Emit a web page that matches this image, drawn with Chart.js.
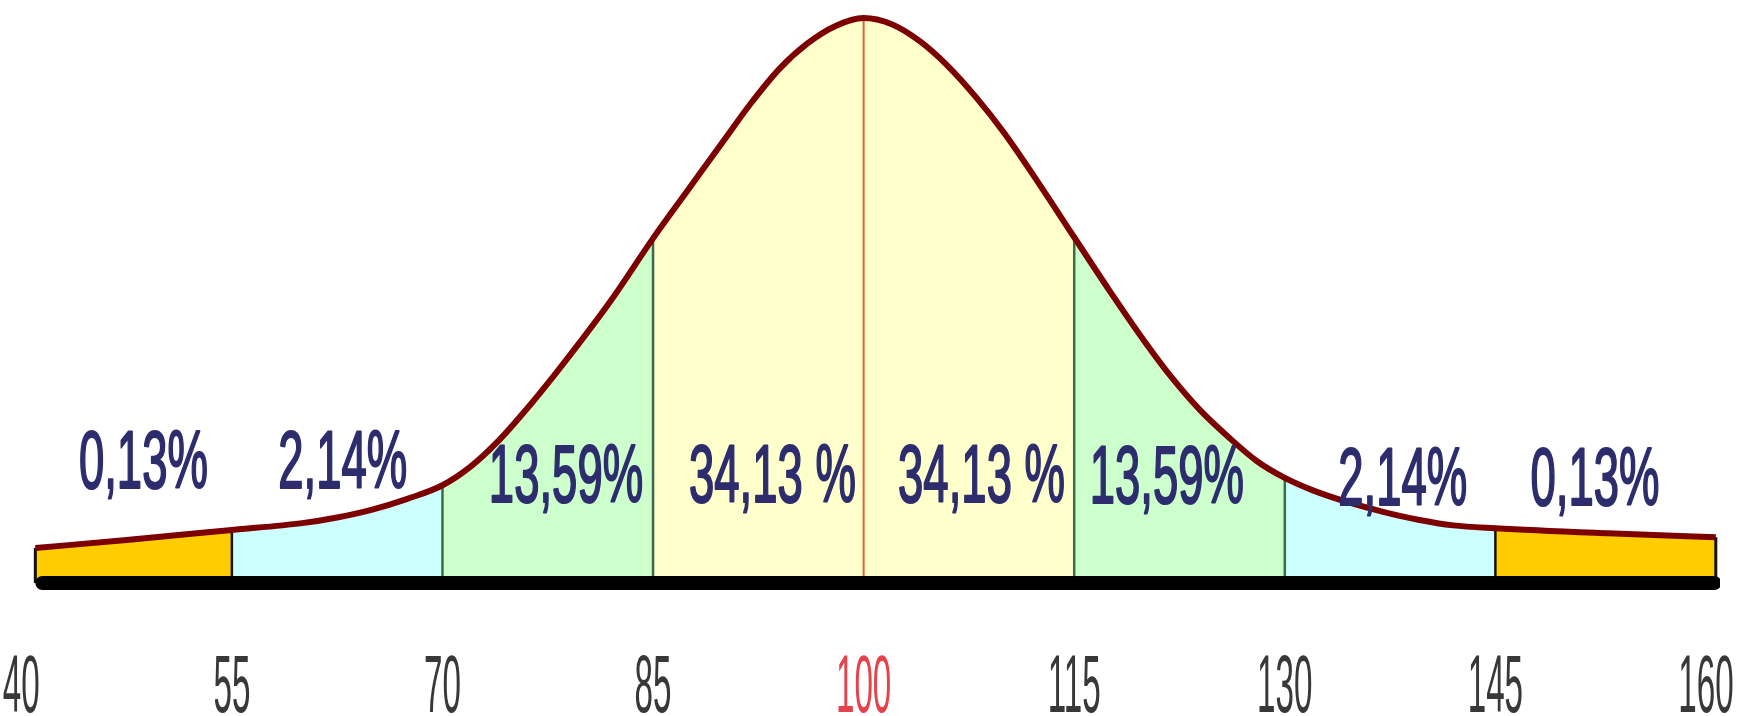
<!DOCTYPE html>
<html>
<head>
<meta charset="utf-8">
<script src="https://cdn.jsdelivr.net/npm/chart.js@4.4.1/dist/chart.umd.min.js"></script>
<style>
  html, body { margin: 0; padding: 0; background: #fff; }
  #wrap { width: 1762px; height: 716px; }
</style>
</head>
<body>
<div id="wrap"><canvas id="bell" width="1762" height="716"></canvas></div>
<script>
// curve: x in IQ points, height in % of the peak
const curveX = [41, 47.5, 55, 60, 62.5, 65, 67.5, 70, 72, 74, 76, 78, 80, 82, 85, 87.5, 90, 92, 94, 96, 98, 100,
  102, 104, 106, 108, 110, 112, 115, 117.5, 120, 122, 124, 126, 128, 130, 132, 134.5, 137, 139.5, 142, 145, 153, 160.7];
const curveY = [6.2, 7.6, 9.4, 10.6, 11.6, 13.0, 14.9, 17.3, 20.6, 25.2, 30.8, 36.9, 43.3, 50.0, 61.0, 69.6, 78.2, 85.0, 91.0, 95.5, 98.6, 100,
  98.9, 95.9, 91.5, 86.0, 79.7, 72.5, 61.2, 51.8, 42.8, 36.2, 30.5, 25.8, 21.6, 18.6, 16.4, 14.3, 12.6, 11.2, 10.2, 9.7, 8.8, 8.1];

const tickValues = [40, 55, 70, 85, 100, 115, 130, 145, 160];
const tickLabels = ['40', '55', '70', '85', '100', '115', '130', '145', '160'];

// band borders and fill colours between them
const bands = [55, 70, 85, 115, 130, 145];
const bandColors = ['#ffcc00', '#ccffff', '#ccffcc', '#ffffcc', '#ccffcc', '#ccffff', '#ffcc00'];
const bandLineColors = ['#111', '#3d6a4c', '#3d6a4c', '#3d6a4c', '#3d6a4c', '#111'];

const pctLabels = ['0,13%', '2,14%', '13,59%', '34,13 %', '34,13 %', '13,59%', '2,14%', '0,13%'];
const pctAtX = [48.7, 62.9, 78.8, 93.5, 108.4, 121.6, 138.4, 152.1];
const pctAtY = [16.8, 16.8, 14.3, 14.3, 14.3, 14.1, 13.8, 13.8];

const curve = curveX.map((x, i) => ({ x: x, y: curveY[i] }));
const heightAt = v => curveY[curveX.indexOf(v)];

function bandColor(x) {
  let i = 0;
  while (i < bands.length && x >= bands[i]) i++;
  return bandColors[i];
}

const vline = (x, color, width, order) => ({
  type: 'line',
  data: [{ x: x, y: 0 }, { x: x, y: heightAt(x) }],
  borderColor: color,
  borderWidth: width,
  pointRadius: 0,
  fill: false,
  order: order
});

const datasets = [
  {
    // coloured areas under the curve
    type: 'line',
    data: curve,
    borderColor: 'rgba(0,0,0,0)',
    borderWidth: 1,
    pointRadius: 0,
    cubicInterpolationMode: 'monotone',
    fill: 'origin',
    backgroundColor: bandColors[0],
    segment: { backgroundColor: c => bandColor(c.p0.parsed.x) },
    order: 6
  },
  ...bands.map((b, i) => vline(b, bandLineColors[i], 2.5, 5)),
  vline(curveX[0], '#111', 3, 5),
  vline(curveX[curveX.length - 1], '#111', 3, 5),
  vline(100, '#e2603c', 2, 4),
  {
    type: 'line',
    data: curve,
    borderColor: '#7d0000',
    borderWidth: 6,
    pointRadius: 0,
    cubicInterpolationMode: 'monotone',
    fill: false,
    order: 2
  },
  {
    // thick black base line
    type: 'line',
    data: [{ x: 41.5, y: 0 }, { x: 160.6, y: 0 }],
    borderColor: '#000',
    borderWidth: 14,
    borderCapStyle: 'round',
    pointRadius: 0,
    fill: false,
    order: 1
  }
];

// tick labels and percentages are narrow and tall in the original
const textPlugin = {
  id: 'bellText',
  afterDraw(chart) {
    const { ctx, scales: { x, y } } = chart;
    ctx.save();
    ctx.textAlign = 'center';
    ctx.textBaseline = 'alphabetic';
    ctx.lineJoin = 'round';

    ctx.font = '82px "Liberation Sans", Arial, sans-serif';
    ctx.fillStyle = '#2d2d6e';
    ctx.strokeStyle = '#2d2d6e';
    ctx.lineWidth = 2.2;
    pctLabels.forEach((t, i) => {
      ctx.save();
      ctx.translate(x.getPixelForValue(pctAtX[i]), y.getPixelForValue(pctAtY[i]));
      ctx.scale(0.555, 1);
      ctx.fillText(t, 0, 0);
      ctx.strokeText(t, 0, 0);
      ctx.restore();
    });

    ctx.font = '81px "Liberation Sans", Arial, sans-serif';
    x.ticks.forEach((tk, i) => {
      ctx.save();
      ctx.fillStyle = tk.value === 100 ? '#e4424d' : '#383838';
      ctx.translate(x.getPixelForValue(tk.value), x.top + 116);
      ctx.scale(0.41, 1);
      ctx.fillText(tickLabels[i], 0, 0);
      ctx.restore();
    });
    ctx.restore();
  }
};

new Chart(document.getElementById('bell'), {
  type: 'line',
  data: { datasets: datasets },
  options: {
    responsive: false,
    animation: false,
    events: [],
    layout: { padding: { left: 21.3, right: 42, top: 0, bottom: 0 } },
    plugins: { legend: { display: false }, tooltip: { enabled: false } },
    scales: {
      x: {
        type: 'linear',
        min: 40,
        max: 161,
        grid: { display: false },
        border: { display: false },
        ticks: { display: false },
        afterBuildTicks: s => { s.ticks = tickValues.map(v => ({ value: v })); },
        afterFit: s => { s.height = 120; }
      },
      y: {
        display: false,
        min: -2.3,
        max: 103.19
      }
    }
  },
  plugins: [textPlugin]
});
</script>
</body>
</html>
